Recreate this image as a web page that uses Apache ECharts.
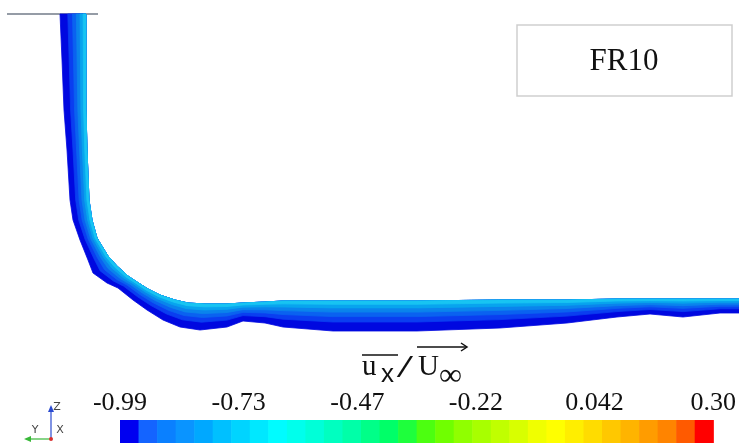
<!DOCTYPE html>
<html>
<head>
<meta charset="utf-8">
<script src="https://cdn.jsdelivr.net/npm/echarts@6/dist/echarts.min.js"></script>
<style>
html, body { margin: 0; padding: 0; background: #fff; }
#main { width: 739px; height: 443px; }
</style>
</head>
<body>
<div id="main"></div>
<script>
// contour band, paired points across the band: outer (dark) edge and inner (light) edge
var bandOuter = [
  [60, 14], [62, 60], [64, 110], [67, 150], [70, 200], [73, 220], [80, 240],
  [88, 260], [93, 273], [107, 283], [118, 288], [133, 300], [147, 310],
  [163, 320], [180, 327], [200, 330], [227, 327], [243, 321], [265, 323],
  [283, 327], [333, 331], [417, 331], [500, 328], [567, 323], [617, 317],
  [650, 314], [683, 317], [720, 313], [739, 313]
];
var bandInner = [
  [86, 14], [86, 60], [86, 110], [87, 150], [89, 200], [92, 220], [97, 238],
  [108, 256], [117, 266], [128, 276], [137, 282], [148, 289], [160, 295],
  [175, 300], [188, 303], [205, 304], [227, 304], [243, 303], [265, 302],
  [283, 301], [333, 301], [417, 301], [500, 300], [567, 300], [617, 299],
  [650, 299], [683, 299], [720, 299], [739, 299]
];

// colour bar
var tickValues = [-0.99, -0.732, -0.474, -0.216, 0.042, 0.30];
var tickLabels = ['-0.99', '-0.73', '-0.47', '-0.22', '0.042', '0.30'];
var colorbarColors = [
  '#0000f0', '#1464ff', '#0a80ff', '#0a94ff', '#00a8ff', '#00c0ff', '#00d4ff', '#00e8ff',
  '#00fcff', '#00ffec', '#00ffd8', '#00ffc0', '#00ffa8', '#00ff88', '#00ff68', '#1eff3c',
  '#4cff10', '#70ff00', '#90ff00', '#a8ff00', '#c0ff00', '#d8ff00', '#f0ff00', '#ffff00',
  '#ffee00', '#ffdc00', '#ffc800', '#ffb400', '#ff9c00', '#ff8400', '#ff5a00', '#ff0000'
];

// band shading, from the dark edge to the light edge
var layerColors = ['#0008e0', '#0a3ef0', '#0a62f0', '#0a84ec', '#08a4ee', '#18c4f2'];
var layerStops = [0, 0.30, 0.48, 0.63, 0.77, 0.89, 1];

var serif = '"Liberation Serif", "Times New Roman", serif';
var sans = '"Liberation Sans", Arial, sans-serif';

function mix(a, b, t) {
  return [a[0] + (b[0] - a[0]) * t, a[1] + (b[1] - a[1]) * t];
}

// each layer is filled from its dark-side stop up to the light edge, drawn dark first
function renderLayer(params, api) {
  var k = params.dataIndex;
  var t0 = layerStops[k];
  var pts = [];
  for (var i = 0; i < bandOuter.length; i++) {
    pts.push(api.coord(mix(bandOuter[i], bandInner[i], t0)));
  }
  for (var j = bandInner.length - 1; j >= 0; j--) {
    pts.push(api.coord(bandInner[j]));
  }
  return {
    type: 'polygon',
    shape: { points: pts },
    style: { fill: layerColors[k], stroke: layerColors[k], lineWidth: 0.8, lineJoin: 'round' }
  };
}

var cbMin = tickValues[0], cbMax = tickValues[tickValues.length - 1];
var cbStep = (cbMax - cbMin) / colorbarColors.length;
var cbData = colorbarColors.map(function (c, i) {
  return [cbMin + i * cbStep, cbMin + (i + 1) * cbStep];
});

function renderCell(params, api) {
  var p0 = api.coord([api.value(0), 1]);
  var p1 = api.coord([api.value(1), 0]);
  return {
    type: 'rect',
    shape: { x: p0[0], y: p0[1], width: p1[0] - p0[0] + 0.6, height: p1[1] - p0[1] },
    style: { fill: colorbarColors[params.dataIndex] }
  };
}

var chart = echarts.init(document.getElementById('main'));
chart.setOption({
  animation: false,
  backgroundColor: '#fff',
  grid: [
    { left: 0, right: 0, top: 0, bottom: 0 },
    { left: 120, width: 597, top: 420, height: 23 }
  ],
  xAxis: [
    { type: 'value', min: 0, max: 739, show: false, gridIndex: 0 },
    {
      type: 'value', min: cbMin, max: cbMax, gridIndex: 1, position: 'top',
      axisLine: { show: false }, axisTick: { show: false }, splitLine: { show: false },
      axisLabel: {
        customValues: tickValues,
        margin: 4,
        fontFamily: serif,
        fontSize: 26,
        color: '#111',
        formatter: function (v) {
          var best = 0;
          for (var i = 1; i < tickValues.length; i++) {
            if (Math.abs(tickValues[i] - v) < Math.abs(tickValues[best] - v)) best = i;
          }
          return tickLabels[best];
        }
      }
    }
  ],
  yAxis: [
    { type: 'value', min: 0, max: 443, inverse: true, show: false, gridIndex: 0 },
    { type: 'value', min: 0, max: 1, show: false, gridIndex: 1 }
  ],
  series: [
    {
      type: 'custom', xAxisIndex: 0, yAxisIndex: 0, silent: true,
      renderItem: renderLayer,
      data: layerColors.map(function (c, i) { return i; })
    },
    {
      type: 'custom', xAxisIndex: 1, yAxisIndex: 1, silent: true,
      renderItem: renderCell,
      data: cbData
    }
  ],
  graphic: [
    // top boundary
    { type: 'line', shape: { x1: 7, y1: 14, x2: 98, y2: 14 }, style: { stroke: '#2c3a4e', lineWidth: 1.2 } },
    // label box
    { type: 'rect', shape: { x: 517, y: 25, width: 215, height: 71 }, style: { fill: '#fff', stroke: '#cfcfcf', lineWidth: 1.5 } },
    { type: 'text', style: { x: 624, y: 62, text: 'FR10', font: '31px ' + serif, fill: '#111', align: 'center', verticalAlign: 'middle' } },
    // colour bar title
    { type: 'text', style: { x: 362, y: 382, text: 'u', font: '29px ' + serif, fill: '#111', verticalAlign: 'bottom' } },
    { type: 'text', style: { x: 381, y: 388, text: 'x', font: '26px ' + sans, fill: '#111', verticalAlign: 'bottom' } },
    { type: 'text', x: 405, y: 384, scaleX: 1.9, style: { x: 0, y: 0, text: '/', font: '31px ' + serif, fill: '#111', align: 'center', verticalAlign: 'bottom' } },
    { type: 'text', style: { x: 418, y: 382, text: 'U', font: '29px ' + serif, fill: '#111', verticalAlign: 'bottom' } },
    { type: 'text', style: { x: 439, y: 393, text: '∞', font: '32px ' + serif, fill: '#111', verticalAlign: 'bottom' } },
    { type: 'line', shape: { x1: 362, y1: 355, x2: 398, y2: 355 }, style: { stroke: '#111', lineWidth: 1.5 } },
    { type: 'line', shape: { x1: 417, y1: 347, x2: 466, y2: 347 }, style: { stroke: '#111', lineWidth: 1.5 } },
    { type: 'polyline', shape: { points: [[461, 343], [467, 347], [461, 351]] }, style: { stroke: '#111', lineWidth: 1.5, fill: null } },
    // orientation triad
    { type: 'line', shape: { x1: 51, y1: 438, x2: 51, y2: 410 }, style: { stroke: '#2a4ad0', lineWidth: 1.2 } },
    { type: 'polygon', shape: { points: [[48, 412], [51, 405], [54, 412]] }, style: { fill: '#2a4ad0' } },
    { type: 'line', shape: { x1: 51, y1: 439, x2: 29, y2: 439 }, style: { stroke: '#38b838', lineWidth: 1.2 } },
    { type: 'polygon', shape: { points: [[31, 436], [24, 439], [31, 442]] }, style: { fill: '#38b838' } },
    { type: 'circle', shape: { cx: 51, cy: 439, r: 2 }, style: { fill: '#d83030' } },
    { type: 'text', style: { x: 57, y: 407, text: 'Z', font: '11px "DejaVu Sans", sans-serif', fill: '#444', align: 'center', verticalAlign: 'middle' } },
    { type: 'text', style: { x: 35, y: 430, text: 'Y', font: '11px "DejaVu Sans", sans-serif', fill: '#444', align: 'center', verticalAlign: 'middle' } },
    { type: 'text', style: { x: 60, y: 430, text: 'X', font: '11px "DejaVu Sans", sans-serif', fill: '#444', align: 'center', verticalAlign: 'middle' } }
  ]
});
</script>
</body>
</html>
